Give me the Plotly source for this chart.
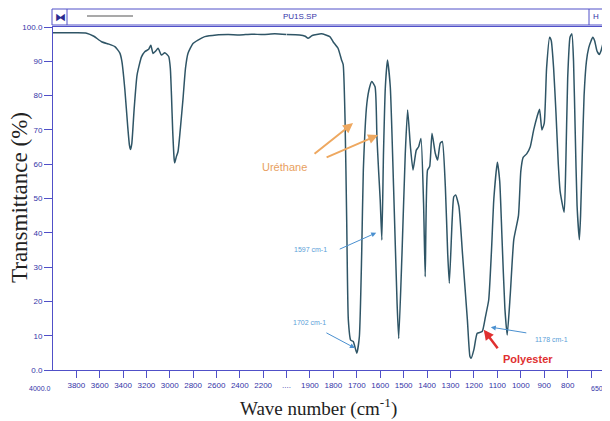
import plotly.graph_objects as go

# ---- data (wavenumber cm-1, transmittance %) ----
wavenumber = [4000, 3800, 3712, 3650, 3584, 3520, 3470, 3427, 3410, 3385, 3360, 3345, 3336, 3325,
              3305, 3280, 3242, 3214, 3180, 3162, 3143, 3120, 3100, 3071, 3043, 3009, 2995, 2985,
              2975, 2962, 2957, 2945, 2929, 2910, 2886, 2865, 2844, 2801, 2758, 2700, 2600, 2500,
              2400, 2300, 2200, 2100, 2000,
              1944, 1920, 1908, 1890, 1851, 1815, 1801, 1780, 1765, 1758, 1750, 1743, 1736, 1726,
              1715, 1700, 1689, 1679, 1672, 1657, 1645, 1636, 1622, 1614, 1607, 1600, 1593, 1586,
              1578, 1569, 1557, 1543, 1528, 1521, 1507, 1493, 1483, 1471, 1460, 1446, 1436, 1426,
              1415, 1408, 1398, 1389, 1379, 1365, 1355, 1344, 1335, 1322, 1312, 1305, 1293, 1286,
              1278, 1264, 1249, 1228, 1217, 1212, 1200, 1186, 1165, 1151, 1137, 1125, 1115, 1100,
              1090, 1080, 1068, 1058, 1045, 1030, 1010, 1000, 990, 975, 960, 945, 930, 920, 910,
              900, 890, 877, 870, 860, 850, 840, 832, 815, 808, 800, 790, 782, 775, 768, 760, 750,
              745, 738, 730, 720, 710, 700, 693, 685, 675, 665, 658, 650]
transmittance = [98.3, 98.3, 98.2, 97.3, 95.7, 95.0, 94.3, 92.4, 90, 82, 71, 65.5, 64.3, 66,
                 76, 86, 91.3, 92.8, 93.5, 94.7, 92.3, 93, 93.8, 91.8, 92.5, 91.4, 88, 80,
                 70, 61.5, 60.4, 62, 63.7, 70, 79.2, 88, 92.3, 95.2, 96.2, 97.2, 97.7, 97.8,
                 97.7, 97.9, 97.8, 98.0, 97.8,
                 97.7, 97.3, 96.7, 97.5, 98.0, 97.2, 95.7, 93.8, 90.4, 89, 73, 43.7, 14.6, 8.7,
                 8.3, 4.9, 9.7, 34, 58.3, 77.7, 82.5, 84.1, 82.6, 68, 58.3, 49.6, 37.9, 63.2,
                 82.6, 90.4, 82.6, 53.4, 19.4, 9.2, 34, 63.2, 75.8, 65.1, 58.3, 64.1, 65.1, 67.5,
                 48.6, 27.2, 58.3, 59.3, 69, 63.2, 61.2, 66.1, 66.6, 53.4, 34, 25.3, 43.7, 50.5,
                 51, 47.6, 34, 14.6, 3.9, 3.4, 6, 10.7, 11.2, 15.5, 20.4, 35, 50, 60.6,
                 55, 38, 18, 10.2, 22, 38, 45, 58, 62, 63, 65, 70, 74, 76, 70,
                 72, 88, 97, 96, 88, 75, 60, 52, 46, 60, 85, 97, 98, 90, 70, 48, 38,
                 45, 62, 80, 90, 94, 96, 97, 96, 93, 92, 93, 95]

ticks_high = [3800, 3600, 3400, 3200, 3000, 2800, 2600, 2400, 2200]
ticks_low = [2000, 1900, 1800, 1700, 1600, 1500, 1400, 1300, 1200, 1100, 1000, 900, 800, 700]
ticks_low_text = ["....", "1900", "1800", "1700", "1600", "1500", "1400", "1300", "1200",
                  "1100", "1000", "900", "800", ""]
y_ticks = [0, 10, 20, 30, 40, 50, 60, 70, 80, 90, 100]
y_ticktext = ["0.0", "10", "20", "30", "40", "50", "60", "70", "80", "90", "100.0"]

high = [(w, t) for w, t in zip(wavenumber, transmittance) if w >= 2000]
low = [(w, t) for w, t in zip(wavenumber, transmittance) if w <= 2000]

# ---- layout helpers (page pixel -> paper); page body has an 8px margin ----
OFF = 8
PAGE_W, PAGE_H = 610, 421
W, H = PAGE_W - OFF, PAGE_H - OFF
L, R, T, B = 53, 604, 27, 370
def px(x):
    return (x - L) / (R - L)
def py(y):
    return (B - y) / (B - T)

AX = "#5050c8"
TICKFONT = dict(family="Liberation Sans", size=8, color="#3434a8")
CURVE = "#2f5566"

fig = go.Figure()
fig.add_trace(go.Scatter(x=[p[0] for p in high], y=[p[1] for p in high], mode="lines",
                         line=dict(color=CURVE, width=1.5, shape="spline", smoothing=0.5),
                         xaxis="x", yaxis="y", showlegend=False, hoverinfo="skip"))
fig.add_trace(go.Scatter(x=[p[0] for p in low], y=[p[1] for p in low], mode="lines",
                         line=dict(color=CURVE, width=1.5, shape="spline", smoothing=0.5),
                         xaxis="x2", yaxis="y", showlegend=False, hoverinfo="skip"))

split = 10 / 23.6
common_x = dict(ticks="outside", ticklen=7, tickcolor=AX, tickwidth=1, showline=True,
                linecolor=AX, linewidth=1, mirror=True, showgrid=False, zeroline=False,
                tickfont=TICKFONT, anchor="y", tickangle=0)
fig.update_layout(
    width=W, height=H,
    margin=dict(l=L - OFF, r=PAGE_W - R, t=T - OFF, b=PAGE_H - B),
    paper_bgcolor="white", plot_bgcolor="white",
    xaxis=dict(domain=[0, split], range=[4000, 2000], tickvals=ticks_high,
               ticktext=[str(v) for v in ticks_high], **common_x),
    xaxis2=dict(domain=[split, 1], range=[2000, 645], tickvals=ticks_low,
                ticktext=ticks_low_text, **common_x),
    yaxis=dict(range=[0, 100], tickvals=y_ticks, ticktext=y_ticktext, ticks="outside",
               ticklen=8, tickcolor=AX, showline=True, linecolor=AX, linewidth=1,
               mirror=False, showgrid=False, zeroline=False, tickfont=TICKFONT),
)

shapes = []
# right frame border
shapes.append(dict(type="line", xref="paper", yref="paper", x0=1, x1=1, y0=0, y1=1,
                   line=dict(color=AX, width=1)))
# header bar
shapes.append(dict(type="rect", xref="paper", yref="paper", x0=px(52), x1=px(604),
                   y0=py(25), y1=py(9), line=dict(color=AX, width=1)))
shapes.append(dict(type="line", xref="paper", yref="paper", x0=px(67), x1=px(67),
                   y0=py(25), y1=py(9), line=dict(color=AX, width=1)))
shapes.append(dict(type="line", xref="paper", yref="paper", x0=px(589), x1=px(589),
                   y0=py(25), y1=py(9), line=dict(color=AX, width=1)))
shapes.append(dict(type="line", xref="paper", yref="paper", x0=px(87), x1=px(133),
                   y0=py(16), y1=py(16), line=dict(color="#555555", width=1.2)))
fig.update_layout(shapes=shapes)

ann = []
def txt(x, y, s, size=8, color="#3434a8", family="Liberation Sans", **kw):
    ann.append(dict(x=px(x), y=py(y), xref="paper", yref="paper", text=s, showarrow=False,
                    xanchor="center", yanchor="middle",
                    font=dict(family=family, size=size, color=color), **kw))

txt(60, 17, "⧓", size=11, color="#2a2a90")
txt(300, 17, "PU1S.SP", size=8)
txt(596, 17, "H", size=8)
txt(40, 388, "4000.0", size=7)
txt(600, 388, "650.0", size=7)
txt(20, 198, "Transmittance (%)", size=23, color="#222222", family="Liberation Serif",
    textangle=-90)
txt(318, 407, "Wave number (cm<sup>-1</sup>)", size=19, color="#222222",
    family="Liberation Serif")

# labels
txt(284, 167, "Uréthane", size=11, color="#e8a060")
txt(310, 249, "1597 cm-1", size=7, color="#5aa0d8")
txt(309, 322, "1702 cm-1", size=7, color="#5aa0d8")
txt(551, 339, "1178 cm-1", size=7, color="#5aa0d8")
txt(528, 359, "<b>Polyester</b>", size=11, color="#e03030")

def arrow(w, t, ax, ay, color, width=1, head=2, size=1):
    ann.append(dict(x=w, y=t, xref="x2", yref="y", ax=ax, ay=ay, text="", showarrow=True,
                    arrowhead=head, arrowsize=size, arrowwidth=width, arrowcolor=color))

arrow(1716, 72, -40, 32, "#eea860", width=2, size=1)
arrow(1609, 68.5, -53, 23, "#eea860", width=2, size=1)
arrow(1617, 40, -38, 17, "#4a90d0", width=1)
arrow(1708, 6.4, -30, -16, "#4a90d0", width=1)
arrow(1128, 12.5, 37, 6, "#4a90d0", width=1)
arrow(1158, 11.7, 15, 20, "#e03030", width=2.5, size=0.8)

fig.update_layout(annotations=ann)
fig.write_html("out.html")
